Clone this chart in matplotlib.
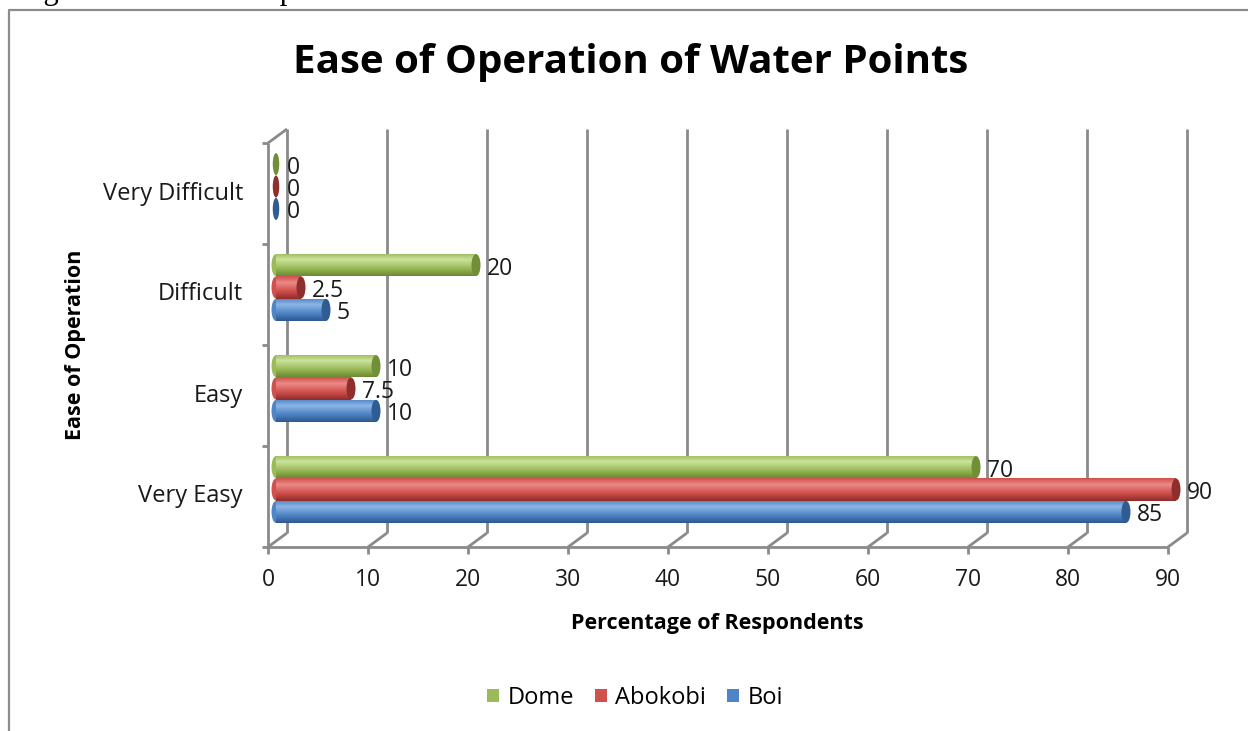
import matplotlib
matplotlib.use("Agg")
import matplotlib.pyplot as plt
import numpy as np
from matplotlib.patches import Ellipse, Patch
from matplotlib.colors import LinearSegmentedColormap
from matplotlib.transforms import ScaledTranslation
from matplotlib.lines import Line2D

# ---- data -------------------------------------------------------------
categories = ["Very Easy", "Easy", "Difficult", "Very Difficult"]
series_names = ["Boi", "Abokobi", "Dome"]
boi = [85, 10, 5, 0]
abokobi = [90, 7.5, 2.5, 0]
dome = [70, 10, 20, 0]
value_labels = {"Boi": ["85", "10", "5", "0"],
                "Abokobi": ["90", "7.5", "2.5", "0"],
                "Dome": ["70", "10", "20", "0"]}
x_ticks = list(range(0, 100, 10))

# ---- styling ----------------------------------------------------------
FONT = "Open Sans"
W, H, DPI = 1248, 731, 100
GRID = "#8a8a8a"
TXT = "#1a1a1a"
shades = {
    "Dome":    dict(base="#9BBB59", light="#CBE39C", dark="#6C8A33", cap="#708F38"),
    "Abokobi": dict(base="#D0504D", light="#EC8A87", dark="#8E2C2A", cap="#8E2F2D"),
    "Boi":     dict(base="#4F85C6", light="#8DB5E5", dark="#2C5890", cap="#2F5C93"),
}

fig = plt.figure(figsize=(W / DPI, H / DPI), dpi=DPI)
fig.patch.set_facecolor("white")


def fx(px):
    return px / W


def fy(py):
    return 1 - py / H


# chart-area border (left and top edges)
fig.add_artist(Line2D([fx(9), fx(9), fx(W + 5)], [fy(H + 5), fy(10), fy(10)],
                      transform=fig.transFigure, color="#8c8c8c", lw=1.6))

# caption line above the chart frame
fig.text(fx(18), fy(-1.5), "Figure 4.4: Ease of Operation of Water Points",
         family="Liberation Serif", fontsize=22, ha="left", va="baseline",
         color="black")

ax = fig.add_axes([fx(268), fy(547), fx(900), 404 / H])
ax.set_xlim(0, 90)
ax.set_ylim(0, 4)
ax.axis("off")

# depth offsets for the pseudo-3D look (back wall and bar plane)
back = ax.transData + ScaledTranslation(19 / DPI, 14 / DPI, fig.dpi_scale_trans)
mid = ax.transData + ScaledTranslation(8 / DPI, 7 / DPI, fig.dpi_scale_trans)

# floor front edge, left wall front edge, diagonals and back-wall gridlines
line_kw = dict(color=GRID, lw=2.0, clip_on=False, solid_capstyle="butt")
ax.plot([0, 90], [0, 0], **line_kw)
ax.plot([0, 0], [0, 4], **line_kw)
bdx = 1.9
bdy = 14 / 101
for k in x_ticks:
    ax.plot([k, k + bdx], [0, bdy], **line_kw)
    ax.plot([k, k], [0, 4], transform=back, **line_kw)
    ax.plot([k, k], [0, -7 / 101], **line_kw)
    ax.text(k, -33 / 101, str(k), ha="center", va="center", fontsize=16.5,
            family=FONT, color=TXT)
ax.plot([0, bdx], [4, 4 + bdy], **line_kw)
for j in range(5):
    ax.plot([-0.6, 0], [j, j], **line_kw)

for i, cat in enumerate(categories):
    ax.text(-2.5, i + 0.5, cat, ha="right", va="center", fontsize=17,
            family=FONT, color=TXT)

# ---- bars -------------------------------------------------------------
bar_h = 0.218
offsets = {"Boi": -0.222, "Abokobi": 0.0, "Dome": 0.222}
values = {"Boi": boi, "Abokobi": abokobi, "Dome": dome}
grad = np.linspace(0, 1, 64).reshape(-1, 1)

for name in ["Dome", "Abokobi", "Boi"]:
    sh = shades[name]
    cmap = LinearSegmentedColormap.from_list(
        name, [(0, sh["dark"]), (0.35, sh["base"]), (0.72, sh["light"]),
               (1.0, sh["base"])])
    ypos = [i + 0.5 + offsets[name] for i in range(len(categories))]
    bars = ax.barh(ypos, values[name], height=bar_h, left=0, transform=mid,
                   color=sh["base"], linewidth=0, clip_on=False)
    for b, v, yc, lab in zip(bars, values[name], ypos, value_labels[name]):
        y0 = yc - bar_h / 2
        if v > 0:
            left_cap = Ellipse((0, yc), 0.9, bar_h, transform=mid,
                               facecolor=sh["base"], edgecolor="none", clip_on=False)
            ax.add_patch(left_cap)
            im = ax.imshow(grad, extent=[0, v, y0, y0 + bar_h], origin="lower",
                           cmap=cmap, aspect="auto", transform=mid,
                           interpolation="bilinear", zorder=2)
            im.set_clip_path(b)
            b.set_zorder(1)
        end_cap = Ellipse((v, yc), 0.9 if v > 0 else 0.65, bar_h, transform=mid,
                          facecolor=sh["cap"], edgecolor="none", zorder=3,
                          clip_on=False)
        ax.add_patch(end_cap)
        ax.text(v + 1.1, yc - 0.035, lab, transform=mid, ha="left", va="center",
                fontsize=16.5, family=FONT, color=TXT, zorder=4)

ax.set_xlim(0, 90)
ax.set_ylim(0, 4)
ax.set_aspect("auto")

# ---- titles -----------------------------------------------------------
fig.text(fx(631), fy(62), "Ease of Operation of Water Points", ha="center",
         va="center", fontsize=29, fontweight="bold", family=FONT, color="black")
fig.text(fx(717), fy(624), "Percentage of Respondents", ha="center", va="center",
         fontsize=15.5, fontweight="bold", family=FONT, color="black")
fig.text(fx(76), fy(345), "Ease of Operation", ha="center", va="center",
         rotation=90, fontsize=15.5, fontweight="bold", family=FONT, color="black")

# ---- legend -----------------------------------------------------------
handles = [Patch(facecolor=shades[n]["base"], edgecolor="none")
           for n in ["Dome", "Abokobi", "Boi"]]
fig.legend(handles, ["Dome", "Abokobi", "Boi"], loc="center",
           bbox_to_anchor=(fx(635), fy(698)), ncol=3, frameon=False,
           prop={"family": FONT, "size": 17}, handlelength=0.5,
           handleheight=0.5, handletextpad=0.35, columnspacing=0.9)

fig.savefig("out.png", dpi=DPI, facecolor="white")
